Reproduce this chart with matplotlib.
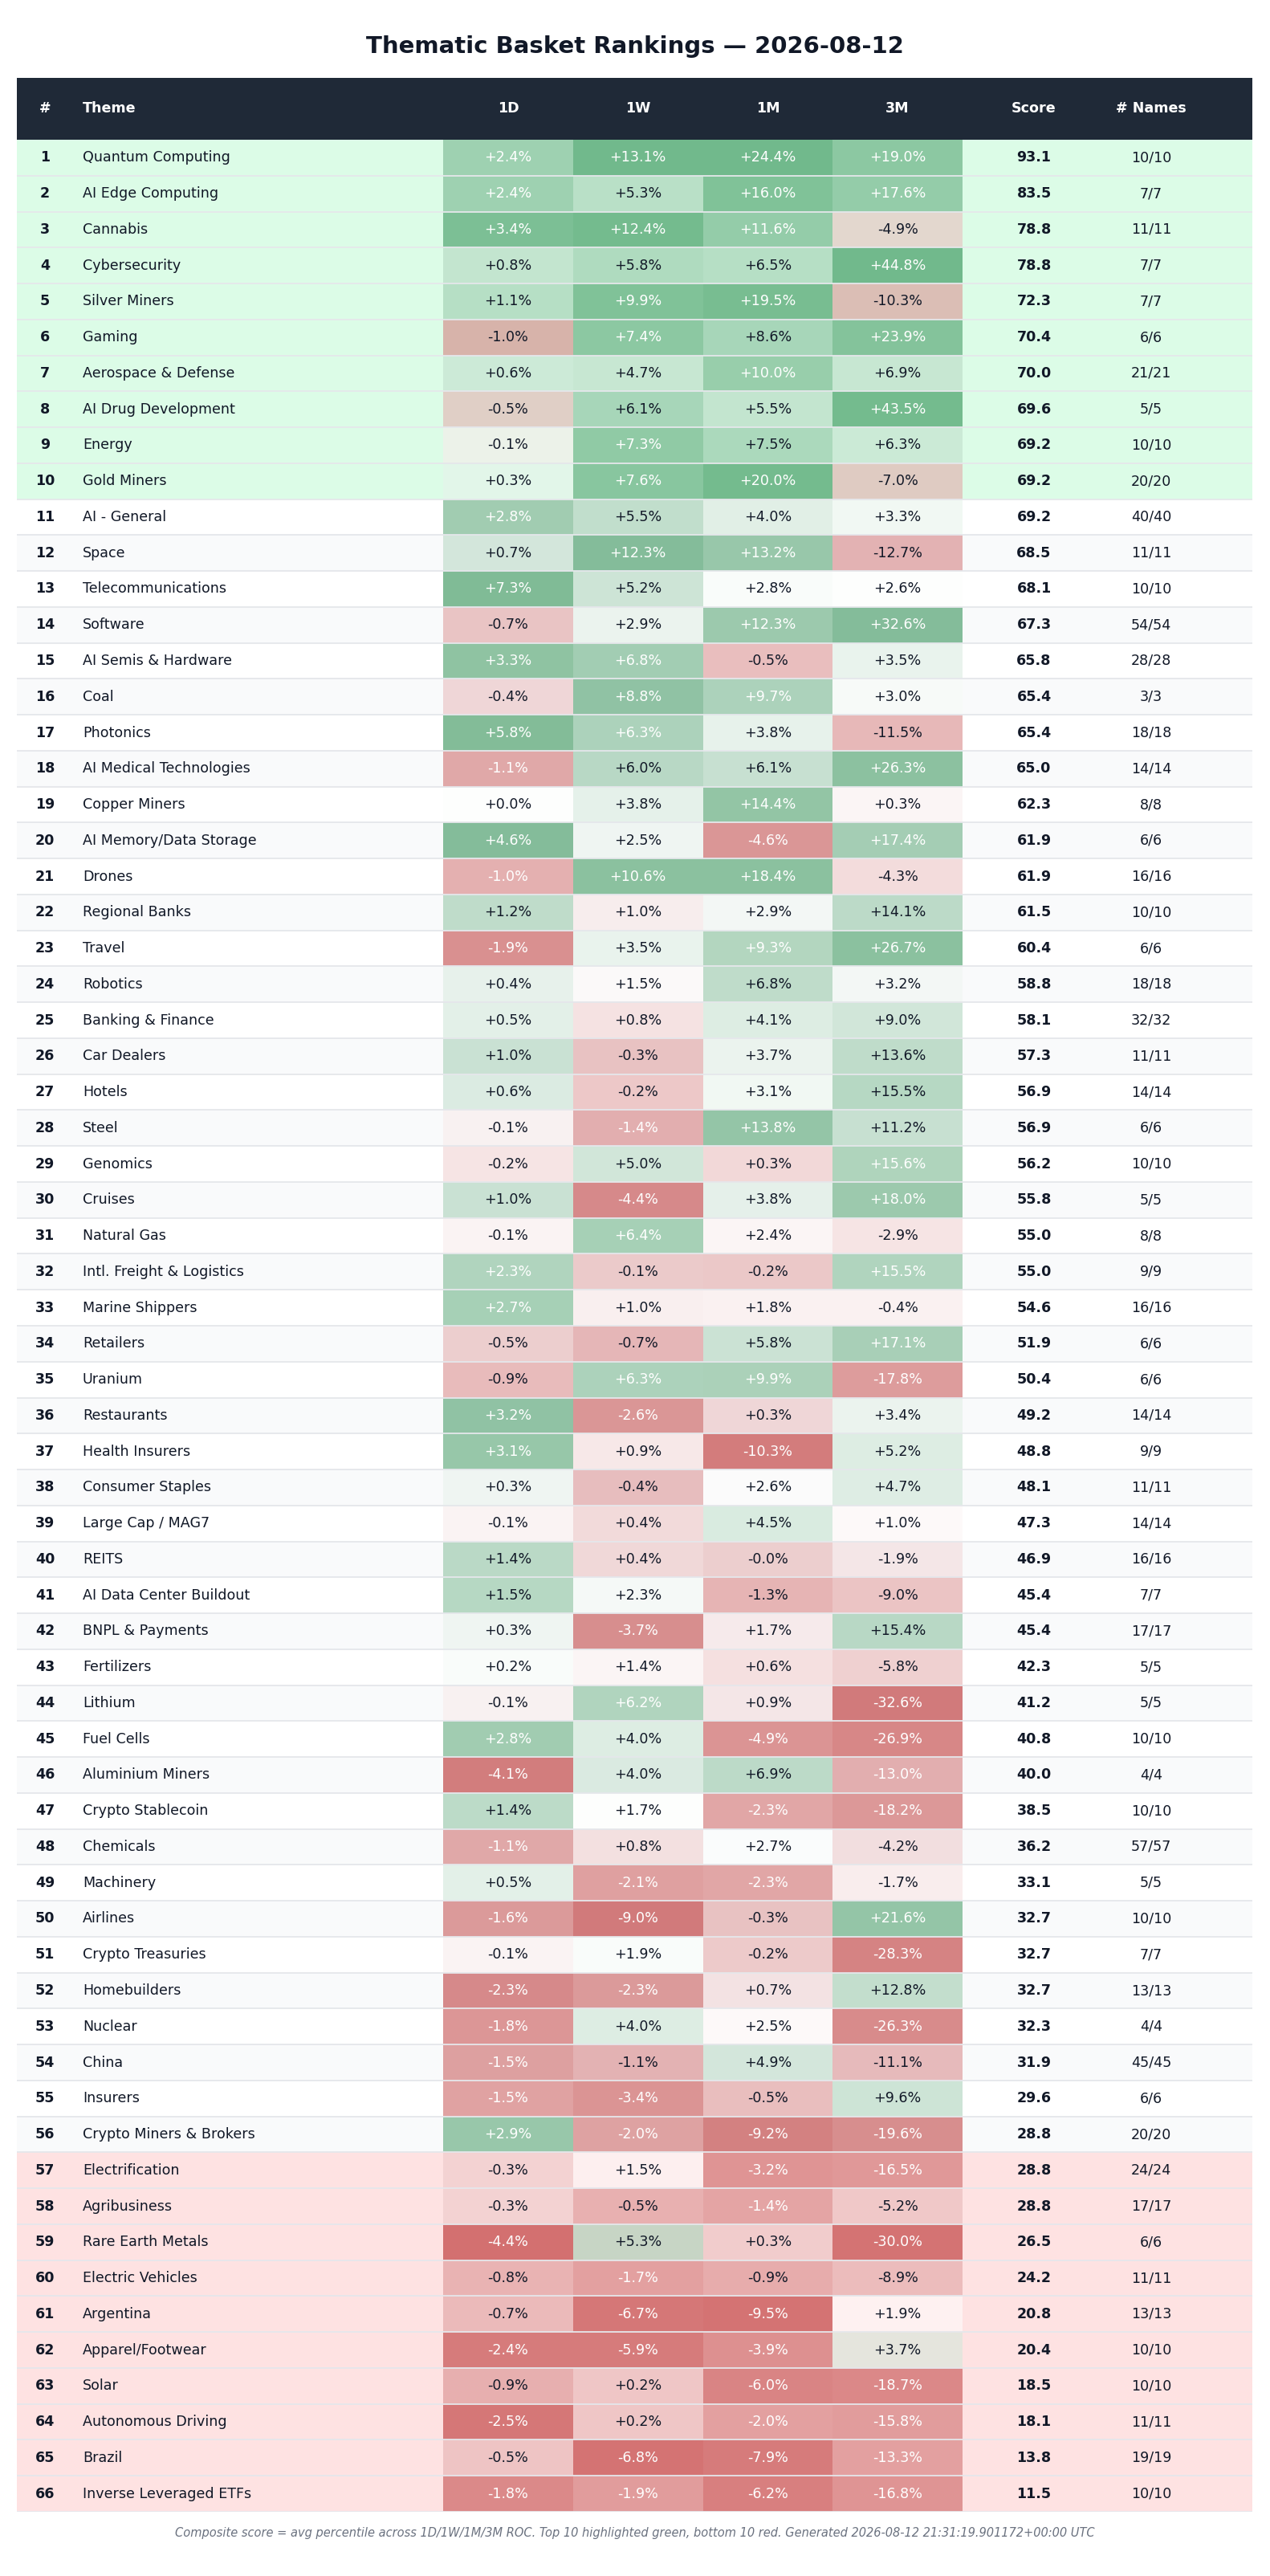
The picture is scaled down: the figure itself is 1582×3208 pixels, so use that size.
import numpy as np
import pandas as pd
import matplotlib
matplotlib.use("Agg")
import matplotlib.pyplot as plt
from matplotlib.colors import LinearSegmentedColormap
from matplotlib.patches import Rectangle

plt.rcParams['font.family'] = ['DejaVu Sans']

title = "Thematic Basket Rankings — 2026-08-12"
footer = ("Composite score = avg percentile across 1D/1W/1M/3M ROC. Top 10 highlighted green, "
          "bottom 10 red. Generated 2026-08-12 21:31:19.901172+00:00 UTC")

headers = ["#", "Theme", "1D", "1W", "1M", "3M", "Score", "# Names"]

themes = [
    "Quantum Computing", "AI Edge Computing", "Cannabis", "Cybersecurity", "Silver Miners",
    "Gaming", "Aerospace & Defense", "AI Drug Development", "Energy", "Gold Miners",
    "AI - General", "Space", "Telecommunications", "Software", "AI Semis & Hardware",
    "Coal", "Photonics", "AI Medical Technologies", "Copper Miners", "AI Memory/Data Storage",
    "Drones", "Regional Banks", "Travel", "Robotics", "Banking & Finance",
    "Car Dealers", "Hotels", "Steel", "Genomics", "Cruises",
    "Natural Gas", "Intl. Freight & Logistics", "Marine Shippers", "Retailers", "Uranium",
    "Restaurants", "Health Insurers", "Consumer Staples", "Large Cap / MAG7", "REITS",
    "AI Data Center Buildout", "BNPL & Payments", "Fertilizers", "Lithium", "Fuel Cells",
    "Aluminium Miners", "Crypto Stablecoin", "Chemicals", "Machinery", "Airlines",
    "Crypto Treasuries", "Homebuilders", "Nuclear", "China", "Insurers",
    "Crypto Miners & Brokers", "Electrification", "Agribusiness", "Rare Earth Metals", "Electric Vehicles",
    "Argentina", "Apparel/Footwear", "Solar", "Autonomous Driving", "Brazil",
    "Inverse Leveraged ETFs",
]

roc_1d = [
    2.4, 2.4, 3.4, 0.8, 1.1, -0.96, 0.6, -0.5, -0.1, 0.3,
    2.8, 0.7, 7.3, -0.7, 3.3, -0.4, 5.8, -1.1, 0.0, 4.6,
    -1.04, 1.2, -1.9, 0.4, 0.5, 1.0, 0.6, -0.1, -0.2, 1.0,
    -0.1, 2.3, 2.7, -0.5, -0.9, 3.2, 3.1, 0.3, -0.1, 1.4,
    1.5, 0.3, 0.2, -0.1, 2.8, -4.1, 1.4, -1.1, 0.5, -1.6,
    -0.1, -2.3, -1.8, -1.5, -1.5, 2.9, -0.3, -0.3, -4.4, -0.8,
    -0.7, -2.4, -0.9, -2.5, -0.5, -1.8,
]
roc_1w = [
    13.1, 5.3, 12.4, 5.8, 9.9, 7.4, 4.7, 6.1, 7.3, 7.6,
    5.5, 12.3, 5.2, 2.9, 6.8, 8.8, 6.3, 6.0, 3.8, 2.5,
    10.6, 1.0, 3.5, 1.5, 0.8, -0.3, -0.2, -1.4, 5.0, -4.4,
    6.4, -0.1, 1.0, -0.7, 6.3, -2.6, 0.9, -0.4, 0.4, 0.4,
    2.3, -3.7, 1.4, 6.2, 4.0, 4.0, 1.7, 0.8, -2.1, -9.0,
    1.9, -2.3, 4.0, -1.1, -3.4, -2.0, 1.5, -0.5, 5.3, -1.7,
    -6.7, -5.9, 0.2, 0.2, -6.8, -1.9,
]
roc_1m = [
    24.4, 16.0, 11.6, 6.5, 19.5, 8.6, 10.0, 5.5, 7.5, 20.0,
    4.0, 13.2, 2.8, 12.3, -0.5, 9.7, 3.8, 6.1, 14.4, -4.6,
    18.4, 2.9, 9.3, 6.8, 4.1, 3.7, 3.1, 13.8, 0.3, 3.8,
    2.4, -0.2, 1.8, 5.8, 9.9, 0.3, -10.3, 2.6, 4.5, -0.04,
    -1.3, 1.7, 0.6, 0.9, -4.9, 6.9, -2.3, 2.7, -2.3, -0.3,
    -0.2, 0.7, 2.5, 4.9, -0.5, -9.2, -3.2, -1.4, 0.3, -0.9,
    -9.5, -3.9, -6.0, -2.0, -7.9, -6.2,
]
roc_3m = [
    19.0, 17.6, -4.9, 44.8, -10.3, 23.9, 6.9, 43.5, 6.3, -7.0,
    3.3, -12.7, 2.6, 32.6, 3.5, 3.0, -11.5, 26.3, 0.3, 17.4,
    -4.3, 14.1, 26.7, 3.2, 9.0, 13.6, 15.46, 11.2, 15.6, 18.0,
    -2.9, 15.54, -0.4, 17.1, -17.8, 3.4, 5.2, 4.7, 1.0, -1.9,
    -9.0, 15.4, -5.8, -32.6, -26.9, -13.0, -18.2, -4.2, -1.7, 21.6,
    -28.3, 12.8, -26.3, -11.1, 9.6, -19.6, -16.5, -5.2, -30.0, -8.9,
    1.9, 3.7, -18.7, -15.8, -13.3, -16.8,
]
scores = [
    93.1, 83.5, 78.8, 78.8, 72.3, 70.4, 70.0, 69.6, 69.2, 69.2,
    69.2, 68.5, 68.1, 67.3, 65.8, 65.4, 65.4, 65.0, 62.3, 61.9,
    61.9, 61.5, 60.4, 58.8, 58.1, 57.3, 56.9, 56.9, 56.2, 55.8,
    55.0, 55.0, 54.6, 51.9, 50.4, 49.2, 48.8, 48.1, 47.3, 46.9,
    45.4, 45.4, 42.3, 41.2, 40.8, 40.0, 38.5, 36.2, 33.1, 32.7,
    32.7, 32.7, 32.3, 31.9, 29.6, 28.8, 28.8, 28.8, 26.5, 24.2,
    20.8, 20.4, 18.5, 18.1, 13.8, 11.5,
]
name_counts = [
    "10/10", "7/7", "11/11", "7/7", "7/7", "6/6", "21/21", "5/5", "10/10", "20/20",
    "40/40", "11/11", "10/10", "54/54", "28/28", "3/3", "18/18", "14/14", "8/8", "6/6",
    "16/16", "10/10", "6/6", "18/18", "32/32", "11/11", "14/14", "6/6", "10/10", "5/5",
    "8/8", "9/9", "16/16", "6/6", "6/6", "14/14", "9/9", "11/11", "14/14", "16/16",
    "7/7", "17/17", "5/5", "5/5", "10/10", "4/4", "10/10", "57/57", "5/5", "10/10",
    "7/7", "13/13", "4/4", "45/45", "6/6", "20/20", "24/24", "17/17", "6/6", "11/11",
    "13/13", "10/10", "10/10", "11/11", "19/19", "10/10",
]

# ---------------- styling / layout ----------------
FIG_W, FIG_H, DPI = 1582, 3208, 100
TABLE_L, TABLE_R = 21, 1560
TABLE_TOP, ROWS_TOP, TABLE_BOT = 97, 174, 3128
n = len(themes)
row_px = (TABLE_BOT - ROWS_TOP) / n
HEAD_H = (ROWS_TOP - TABLE_TOP) / row_px
W = TABLE_R - TABLE_L

X_RANK, X_THEME = 35, 82
HEAT_X0, HEAT_W = 531, 161.75
X_SCORE, X_NAMES = 1267, 1413

HEADER_BG = "#1f2937"
TOP_BG, BOT_BG = "#dcfce7", "#fee2e2"
ROW_BG = ["#ffffff", "#f9fafb"]
LINE_C = "#e5e7eb"
TEXT_C = "#111827"
FS = 12.6

cmap = LinearSegmentedColormap.from_list("rg", ["#b41e1e", "#ffffff", "#248a4a"])
ALPHA = 0.58

fig = plt.figure(figsize=(FIG_W / DPI, FIG_H / DPI), dpi=DPI)
fig.patch.set_facecolor("white")
ax = fig.add_axes([TABLE_L / FIG_W, 1 - TABLE_BOT / FIG_H, W / FIG_W,
                   (TABLE_BOT - TABLE_TOP) / FIG_H])
ax.set_xlim(0, W)
ax.set_ylim(n, -HEAD_H)
ax.axis("off")

# header
ax.add_patch(Rectangle((0, -HEAD_H), W, HEAD_H, facecolor=HEADER_BG, edgecolor="none"))
hy = -HEAD_H / 2
ax.text(X_RANK, hy, headers[0], ha="center", va="center", color="white", fontsize=FS, fontweight="bold")
ax.text(X_THEME, hy, headers[1], ha="left", va="center", color="white", fontsize=FS, fontweight="bold")
for k, h in enumerate(headers[2:6]):
    ax.text(HEAT_X0 + (k + 0.5) * HEAT_W, hy, h, ha="center", va="center",
            color="white", fontsize=FS, fontweight="bold")
ax.text(X_SCORE, hy, headers[6], ha="center", va="center", color="white", fontsize=FS, fontweight="bold")
ax.text(X_NAMES, hy, headers[7], ha="center", va="center", color="white", fontsize=FS, fontweight="bold")

# row backgrounds
for i in range(n):
    if i < 10:
        bg = TOP_BG
    elif i >= n - 10:
        bg = BOT_BG
    else:
        bg = ROW_BG[i % 2]
    ax.add_patch(Rectangle((0, i), W, 1, facecolor=bg, edgecolor="none", zorder=1))

# heat cells
cols = [roc_1d, roc_1w, roc_1m, roc_3m]
for k, vals in enumerate(cols):
    s = pd.Series(vals)
    pct = ((s.rank(method="average") - 1) / (n - 1)).values
    for i, v in enumerate(vals):
        x0 = HEAT_X0 + k * HEAT_W
        ax.add_patch(Rectangle((x0, i), HEAT_W, 1, facecolor=cmap(pct[i]), alpha=ALPHA,
                               edgecolor="none", zorder=2))
        white = pct[i] <= 0.2 + 1e-9 or pct[i] >= 0.8 - 1e-9
        ax.text(x0 + HEAT_W / 2, i + 0.5, f"{v:+.1f}%", ha="center", va="center",
                color="white" if white else TEXT_C, fontsize=FS, zorder=4)

# row lines
ax.hlines(np.arange(1, n + 1), 0, W, color=LINE_C, lw=1.3, zorder=3)

# row text
for i in range(n):
    y = i + 0.5
    ax.text(X_RANK, y, str(i + 1), ha="center", va="center", color=TEXT_C,
            fontsize=FS, fontweight="bold", zorder=4)
    ax.text(X_THEME, y, themes[i], ha="left", va="center", color=TEXT_C, fontsize=FS, zorder=4)
    ax.text(X_SCORE, y, f"{scores[i]:.1f}", ha="center", va="center", color=TEXT_C,
            fontsize=FS, fontweight="bold", zorder=4)
    ax.text(X_NAMES, y, name_counts[i], ha="center", va="center", color=TEXT_C,
            fontsize=FS, zorder=4)

fig.text(0.5, 1 - 58 / FIG_H, title, ha="center", va="center", fontsize=21,
         fontweight="bold", color=TEXT_C)
fig.text(0.5, 1 - 3154 / FIG_H, footer, ha="center", va="center", fontsize=10.5,
         style="italic", color="#6b7280")

fig.savefig("out.png", dpi=DPI, facecolor="white")
